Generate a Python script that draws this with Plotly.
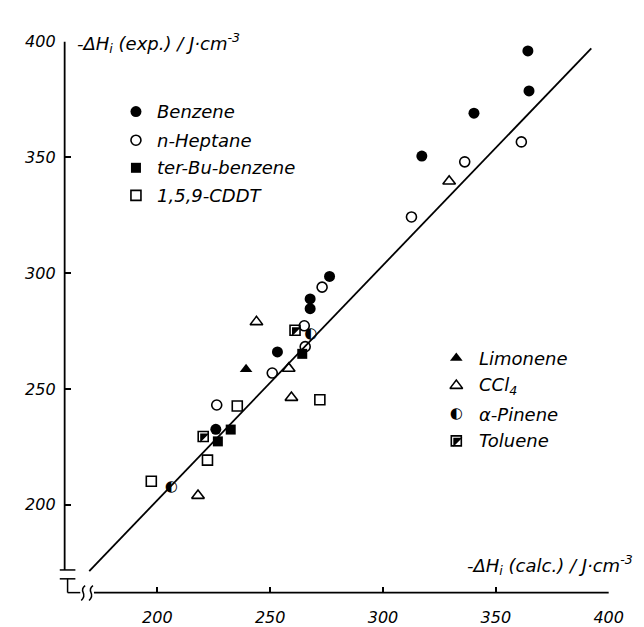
import plotly.graph_objects as go

W, H = 644, 627

# ---------------- data ----------------
benzene_x = [364.2, 364.7, 340.3, 317.2, 276.3, 267.7, 267.7, 253.2, 225.9]
benzene_y = [396.0, 378.7, 369.1, 350.6, 298.6, 288.9, 284.7, 266.0, 232.6]
heptane_x = [361.3, 336.2, 312.6, 273.0, 265.1, 265.5, 250.9, 226.3]
heptane_y = [356.7, 348.1, 324.3, 294.0, 277.3, 268.3, 256.9, 243.1]
terbu_x = [232.5, 226.8, 264.2]
terbu_y = [232.5, 227.4, 265.2]
cddt_x = [235.4, 272.0, 222.2, 197.3]
cddt_y = [242.7, 245.4, 219.3, 210.2]
limonene_x = [239.3]
limonene_y = [258.5]
ccl4_x = [243.9, 258.2, 259.4, 329.3, 218.0]
ccl4_y = [279.0, 258.9, 246.3, 339.7, 204.0]
pinene_x = [206.2, 268.0]
pinene_y = [207.4, 273.6]
toluene_x = [220.3, 261.0]
toluene_y = [229.5, 275.4]
line_x = [169.8, 392.3]
line_y = [171.4, 397.1]
x_ticks = [200, 250, 300, 350, 400]
y_ticks = [200, 250, 300, 350, 400]
x_ticktext = ["200", "250", "300", "350", "400"]
y_ticktext = ["200", "250", "300", "350", "400"]

legend_left = ["Benzene", "n-Heptane", "ter-Bu-benzene", "1,5,9-CDDT"]
legend_right = ["Limonene", "CCl<sub>4</sub>", "α-Pinene", "Toluene"]

FONT = "DejaVu Sans"
BLACK = "black"

# ---------------- styles ----------------
def filled(sym, size):
    return dict(symbol=sym, size=size, color=BLACK, line=dict(width=0))

def opened(sym, size):
    return dict(symbol=sym, size=size, color=BLACK, line=dict(width=1.6, color=BLACK))

styles = {
    "benzene": filled("circle", 11),
    "heptane": opened("circle-open", 10),
    "terbu": filled("square", 10),
    "cddt": opened("square-open", 10),
    "limonene": filled("triangle-up", 11),
    "ccl4": opened("triangle-up-open", 11),
}

fig = go.Figure()

# regression line
fig.add_trace(go.Scatter(x=line_x, y=line_y, mode="lines",
                         line=dict(color=BLACK, width=1.8),
                         showlegend=False, hoverinfo="skip"))

series = [
    ("benzene", benzene_x, benzene_y),
    ("heptane", heptane_x, heptane_y),
    ("terbu", terbu_x, terbu_y),
    ("cddt", cddt_x, cddt_y),
    ("limonene", limonene_x, limonene_y),
    ("ccl4", ccl4_x, ccl4_y),
]
for key, xs, ys in series:
    fig.add_trace(go.Scatter(x=xs, y=ys, mode="markers", marker=styles[key],
                             showlegend=False, cliponaxis=False))

# toluene: open square with upper-left half filled
fig.add_trace(go.Scatter(x=toluene_x, y=toluene_y, mode="markers",
                         marker=opened("square-open", 10), showlegend=False, cliponaxis=False))
fig.add_trace(go.Scatter(x=toluene_x, y=toluene_y, mode="markers",
                         marker=filled("triangle-nw", 10), showlegend=False, cliponaxis=False))
# alpha-pinene: half filled circle glyph
fig.add_trace(go.Scatter(x=pinene_x, y=pinene_y, mode="text",
                         text=["◐"] * len(pinene_x), textposition="middle center",
                         textfont=dict(family=FONT, size=15, color=BLACK),
                         showlegend=False, cliponaxis=False))

# ---------------- legend (pixel overlay axes x2/y2) ----------------
leg_left_pos = [(131, 96), (131, 125), (131, 153), (131, 181)]
leg_right_pos = [(459, 346), (459, 374), (459, 403), (459, 430)]
left_keys = ["benzene", "heptane", "terbu", "cddt"]
right_keys = ["limonene", "ccl4"]

for key, (px, py) in zip(left_keys, leg_left_pos):
    fig.add_trace(go.Scatter(x=[px], y=[py], xaxis="x2", yaxis="y2", mode="markers",
                             marker=styles[key], showlegend=False, cliponaxis=False))
for key, (px, py) in zip(right_keys, leg_right_pos[:2]):
    fig.add_trace(go.Scatter(x=[px], y=[py], xaxis="x2", yaxis="y2", mode="markers",
                             marker=styles[key], showlegend=False, cliponaxis=False))
px, py = leg_right_pos[2]
fig.add_trace(go.Scatter(x=[px], y=[py], xaxis="x2", yaxis="y2", mode="text", text=["◐"],
                         textposition="middle center",
                         textfont=dict(family=FONT, size=15, color=BLACK),
                         showlegend=False, cliponaxis=False))
px, py = leg_right_pos[3]
fig.add_trace(go.Scatter(x=[px], y=[py], xaxis="x2", yaxis="y2", mode="markers",
                         marker=opened("square-open", 10), showlegend=False, cliponaxis=False))
fig.add_trace(go.Scatter(x=[px], y=[py], xaxis="x2", yaxis="y2", mode="markers",
                         marker=filled("triangle-nw", 10), showlegend=False, cliponaxis=False))

annotations = []
txtfont = dict(family=FONT, size=18, color=BLACK, style="italic")
for label, (px, py) in zip(legend_left, leg_left_pos):
    annotations.append(dict(x=px + 20, y=py, xref="x2", yref="y2", text=label,
                            showarrow=False, xanchor="left", yanchor="middle", font=txtfont))
for label, (px, py) in zip(legend_right, leg_right_pos):
    annotations.append(dict(x=px + 21, y=py, xref="x2", yref="y2", text=label,
                            showarrow=False, xanchor="left", yanchor="middle", font=txtfont))

# axis titles
annotations.append(dict(x=69, y=26, xref="x2", yref="y2",
                        text="-ΔH<sub>i</sub> (exp.) / J·cm<sup>-3</sup>",
                        showarrow=False, xanchor="left", yanchor="middle", font=txtfont))
annotations.append(dict(x=642, y=556, xref="x2", yref="y2",
                        text="-ΔH<sub>i</sub> (calc.) / J·cm<sup>-3</sup>",
                        showarrow=False, xanchor="right", yanchor="middle", font=txtfont))

# ---------------- axis lines and break marks (pixel overlay) ----------------
def seg(x0, y0, x1, y1, w=1.8):
    return dict(type="line", xref="x2", yref="y2", x0=x0, y0=y0, x1=x1, y1=y1,
                line=dict(color=BLACK, width=w))

shapes = [
    seg(58, 25, 58, 561),
    seg(88, 584, 615, 584),
    seg(53, 561, 69, 561, 1.5),
    seg(53, 570, 69, 570, 1.5),
    seg(61, 570, 61, 584, 1.5),
    seg(61, 584, 74, 584, 1.5),
    dict(type="path", xref="x2", yref="y2",
         path="M 79,577 Q 75,580 77,584 Q 79,588 75,592",
         line=dict(color=BLACK, width=1.5)),
    dict(type="path", xref="x2", yref="y2",
         path="M 87,577 Q 83,580 85,584 Q 87,588 83,592",
         line=dict(color=BLACK, width=1.5)),
]

tickfont = dict(family=FONT, size=16, color=BLACK, style="italic")

fig.update_layout(
    width=W, height=H, autosize=False,
    margin=dict(l=0, r=0, t=0, b=0),
    paper_bgcolor="white", plot_bgcolor="rgba(0,0,0,0)",
    showlegend=False,
    xaxis=dict(domain=[58 / W, 615 / W], range=[158.9, 400], anchor="y",
               tickvals=x_ticks, ticktext=x_ticktext, ticks="inside", ticklen=6,
               tickwidth=1.5, tickcolor=BLACK, showgrid=False, zeroline=False,
               showline=False, tickfont=tickfont, ticklabelstandoff=13),
    yaxis=dict(domain=[1 - 584 / H, 1 - 25 / H], range=[162.1, 400], anchor="x",
               tickvals=y_ticks, ticktext=y_ticktext, ticks="inside", ticklen=6,
               tickwidth=1.5, tickcolor=BLACK, showgrid=False, zeroline=False,
               showline=False, tickfont=tickfont, ticklabelstandoff=8),
    xaxis2=dict(domain=[0, 1], range=[0, W], anchor="y2", visible=False),
    yaxis2=dict(domain=[0, 1], range=[H, 0], anchor="x2", visible=False),
    annotations=annotations,
    shapes=shapes,
)

fig.write_html("out.html")
